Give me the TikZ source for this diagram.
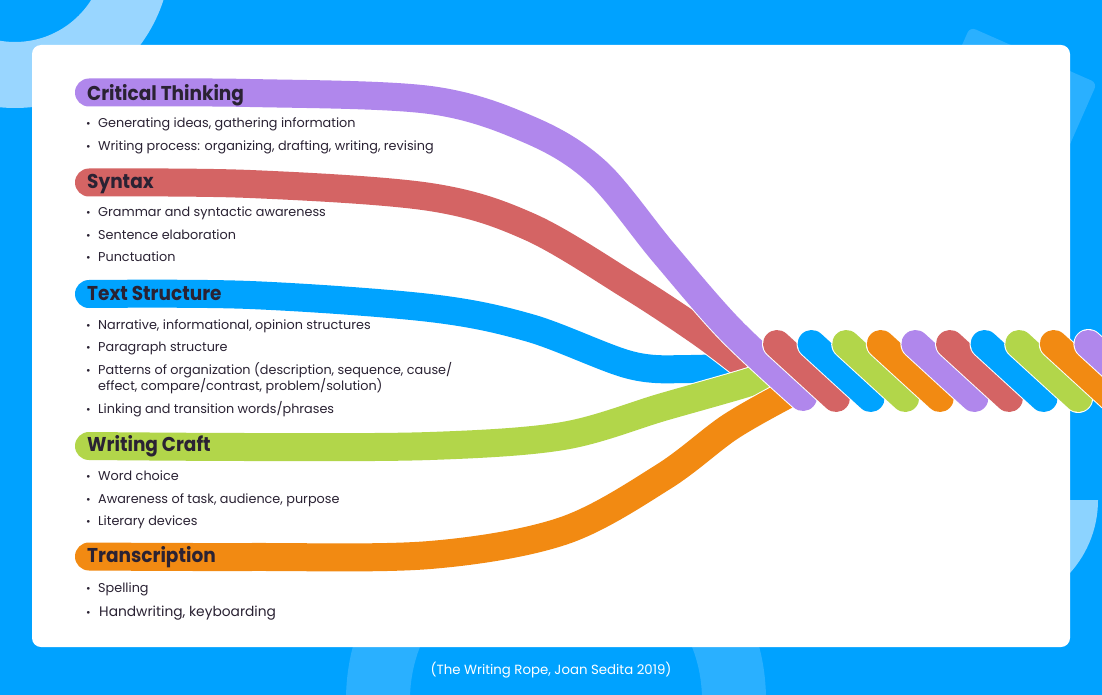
\documentclass[tikz,border=0pt]{standalone}
\usepackage{fontspec}
\setmainfont{Poppins}
\newfontfamily\headfont{Poppins}[FakeStretch=0.925]
\usetikzlibrary{calc, positioning}

\definecolor{bgblue}{HTML}{00A2FF}
\definecolor{ringlight}{HTML}{99D6FF}
\definecolor{ringmid}{HTML}{2AB0FF}
\definecolor{disklight}{HTML}{8CD3FF}
\definecolor{ink}{HTML}{2A2233}
\definecolor{cpurple}{HTML}{B087EC}
\definecolor{cred}{HTML}{D46464}
\definecolor{cblue}{HTML}{00A3FF}
\definecolor{cgreen}{HTML}{B2D64A}
\definecolor{corange}{HTML}{F28A12}

\begin{document}
\begin{tikzpicture}[x=1pt, y=-1pt, line join=round, line cap=round,
  strand/.style={line width=28pt, line cap=round},
  halo/.style={line width=30pt, white, line cap=round},
  head/.style={anchor=base west, inner sep=0pt, text=ink,
    font=\headfont\fontsize{20}{24}\selectfont\bfseries},
  txt/.style={anchor=base west, inner sep=0pt, text=ink,
    font=\fontsize{12.8}{16}\selectfont},
  dot/.style={anchor=base west, inner sep=0pt, text=ink,
    font=\fontsize{11}{14}\selectfont},
  foot/.style={anchor=base, inner sep=0pt, text=white,
    font=\fontsize{13.3}{16}\selectfont}]
\useasboundingbox (0,0) rectangle (1102,695);
\fill[bgblue] (0,0) rectangle (1102,695);

% background shapes
\fill[ringlight, even odd rule] (15,-48) circle (156pt) (15,-48) circle (90pt);
\fill[ringmid, rounded corners=6pt] (970,27) -- (1097,83) -- (1041,210) -- (914,154) -- cycle;
\fill[ringmid, even odd rule] (556,700) circle (210pt) (556,700) circle (146pt);
\begin{scope}
  \clip (870,500) rectangle (1102,695);
  \fill[disklight] (989,500) circle (109pt);
\end{scope}

% card
\fill[white, rounded corners=9pt] (32,45) rectangle (1070,647);

% strands
\draw[halo] plot[smooth, tension=0.55] coordinates {(89,294) (250,295) (430,308) (530,328) (630,365) (690,369) (748,366)};
\draw[strand, cblue] plot[smooth, tension=0.55] coordinates {(89,294) (250,295) (430,308) (530,328) (630,365) (690,369) (748,366)};
\draw[halo] plot[smooth, tension=0.55] coordinates {(89,182.5) (250,184) (430,197) (530,227) (630,286) (697,330) (740,362) (768,384)};
\draw[strand, cred] plot[smooth, tension=0.55] coordinates {(89,182.5) (250,184) (430,197) (530,227) (630,286) (697,330) (740,362) (768,384)};
\draw[halo] plot[smooth, tension=0.55] coordinates {(89,446) (250,447) (430,446) (563,436) (663,407) (750,382) (782,369)};
\draw[strand, cgreen] plot[smooth, tension=0.55] coordinates {(89,446) (250,447) (430,446) (563,436) (663,407) (750,382) (782,369)};
\draw[halo] plot[smooth, tension=0.55] coordinates {(89,556.5) (250,557) (430,555) (563,531) (663,477) (730,427) (790,393)};
\draw[strand, corange] plot[smooth, tension=0.55] coordinates {(89,556.5) (250,557) (430,555) (563,531) (663,477) (730,427) (790,393)};
\draw[halo] plot[smooth, tension=0.55] coordinates {(89,92.5) (250,93) (430,100) (530,130) (597,172) (663,252) (730,329) (803,397)};
\draw[strand, cpurple] plot[smooth, tension=0.55] coordinates {(89,92.5) (250,93) (430,100) (530,130) (597,172) (663,252) (730,329) (803,397)};

% rope
\foreach \c [count=\i from 0] in {cred,cblue,cgreen,corange,cpurple,cred,cblue,cgreen,corange,cpurple} {
  \draw[halo] (777+34.6*\i,344) -- ++(59,54);
  \draw[strand, \c] (777+34.6*\i,344) -- ++(59,54);
}

% headings and items
\node[head] (ct) at (87,100.5) {Critical Thinking};
\node[dot] (ct1d) at (86,127.5) {•};
\node[txt] (ct1) at (98,127.5) {Generating ideas, gathering information};
\node[dot] (ct2d) at (86,150.8) {•};
\node[txt] (ct2) at (98,150.8) {Writing process: organizing, drafting, writing, revising};

\node[head] (sy) at (87,188.5) {Syntax};
\node[dot] (sy1d) at (86,216.7) {•};
\node[txt] (sy1) at (98,216.7) {Grammar and syntactic awareness};
\node[dot] (sy2d) at (86,239.3) {•};
\node[txt] (sy2) at (98,239.3) {Sentence elaboration};
\node[dot] (sy3d) at (86,261.7) {•};
\node[txt] (sy3) at (98,261.7) {Punctuation};

\node[head] (ts) at (87,300) {Text Structure};
\node[dot] (ts1d) at (86,329.3) {•};
\node[txt] (ts1) at (98,329.3) {Narrative, informational, opinion structures};
\node[dot] (ts2d) at (86,351) {•};
\node[txt] (ts2) at (98,351) {Paragraph structure};
\node[dot] (ts3d) at (86,374) {•};
\node[txt] (ts3) at (98,374) {Patterns of organization (description, sequence, cause/};
\node[txt] (ts3b) at (98,390.7) {effect, compare/contrast, problem/solution)};
\node[dot] (ts4d) at (86,413.3) {•};
\node[txt] (ts4) at (98,413.3) {Linking and transition words/phrases};

\node[head] (wc) at (87,451.7) {Writing Craft};
\node[dot] (wc1d) at (86,480) {•};
\node[txt] (wc1) at (98,480) {Word choice};
\node[dot] (wc2d) at (86,503.3) {•};
\node[txt] (wc2) at (98,503.3) {Awareness of task, audience, purpose};
\node[dot] (wc3d) at (86,525) {•};
\node[txt] (wc3) at (98,525) {Literary devices};

\node[head] (tr) at (87,562.7) {Transcription};
\node[dot] (tr1d) at (86,592.3) {•};
\node[txt] (tr1) at (98,592.3) {Spelling};
\node[dot] (tr2d) at (86,616) {•};
\node[txt, font=\fontsize{13.8}{16}\selectfont] (tr2) at (99,616) {Handwriting, keyboarding};

\node[foot] (src) at (551,674) {(The Writing Rope, Joan Sedita 2019)};
\end{tikzpicture}
\end{document}
